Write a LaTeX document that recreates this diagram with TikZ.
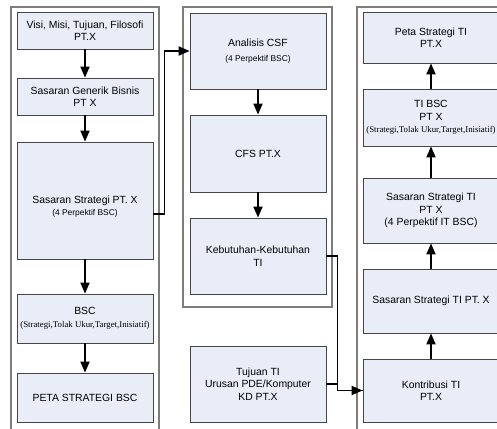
\documentclass[tikz,border=0pt]{standalone}
\usepackage{fontspec}
\setmainfont{Liberation Sans}
\newfontfamily\timesfont{Liberation Serif}
\usetikzlibrary{arrows.meta}

\definecolor{boxfill}{RGB}{232,237,247}
\definecolor{boxline}{RGB}{70,70,70}
\definecolor{frameline}{RGB}{125,125,125}

% smaller parenthetical lines
\newcommand\notesans[1]{{\fontsize{8.4}{10}\selectfont #1}}
\newcommand\noteserif[1]{{\fontsize{8.8}{10}\selectfont\timesfont #1}}

\begin{document}
\begin{tikzpicture}[x=1pt,y=-1pt,
  box/.style={draw=boxline, line width=0.8pt, fill=boxfill, minimum width=136pt,
    inner sep=0pt, align=center, font=\fontsize{10.4}{12.5}\selectfont},
  boxtext/.style={inner sep=0pt, align=center, font=\fontsize{10.4}{12.5}\selectfont},
  frame/.style={draw=frameline, line width=1.3pt},
  conn/.style={line width=1.8pt, -{Triangle[length=11pt,width=9pt]}},
  link/.style={line width=1.8pt},
]
\useasboundingbox (0,0) rectangle (497,428);
\fill[white] (0,0) rectangle (497,428);

\begin{scope}
\clip (0,0) rectangle (497,428);

% three column frames
\draw[frame] (11,7) rectangle (159,440);
\draw[frame] (183,7) rectangle (332,307);
\draw[frame] (357,7) rectangle (504,440);

% business column
\node[box, minimum height=37pt] (b1) at (85,30.5) {Visi, Misi, Tujuan, Filosofi\\PT.X};
\node[box, minimum height=37pt] (b2) at (85,96.5) {Sasaran Generik Bisnis\\PT X};
\node[box, minimum height=117pt] (b3) at (85,200.5) {};
\node[boxtext] (b3t) at ([yshift=-6pt]b3.center) {Sasaran Strategi PT. X\\\notesans{(4 Perpektif BSC)}};
\node[box, minimum height=49pt] (b4) at (85,318.5) {BSC\\\noteserif{(Strategi,Tolak Ukur,Target,Inisiatif)}};
\node[box, minimum height=49pt] (b5) at (85,397.5) {PETA STRATEGI BSC};

% CSF column
\node[box, minimum height=76pt] (m1) at (258,51) {Analisis CSF\\[3pt]\notesans{(4 Perpektif BSC)}};
\node[box, minimum height=77pt] (m2) at (258,153.5) {CFS PT.X};
\node[box, minimum height=76pt] (m3) at (258,256) {Kebutuhan-Kebutuhan\\TI};
\node[box, minimum height=76pt] (m4) at (258,384) {Tujuan TI\\Urusan PDE/Komputer\\KD PT.X};

% IT column
\node[box, minimum height=51pt] (r1) at (431,37.5) {Peta Strategi TI\\PT.X};
\node[box, minimum height=57pt] (r2) at (431,117.5) {TI BSC\\PT X\\\noteserif{(Strategi,Tolak Ukur,Target,Inisiatif)}};
\node[box, minimum height=65pt] (r3) at (431,210.5) {Sasaran Strategi TI\\PT X\\(4 Perpektif IT BSC)};
\node[box, minimum height=64pt] (r4) at (431,301) {Sasaran Strategi TI PT. X};
\node[box, minimum height=63pt] (r5) at (431,390.5) {Kontribusi TI\\PT.X};

% vertical flows
\draw[conn] (b1) -- (b2);
\draw[conn] (b2) -- (b3);
\draw[conn] (b3) -- (b4);
\draw[conn] (b4) -- (b5);
\draw[conn] (m1) -- (m2);
\draw[conn] (m2) -- (m3);
\draw[conn] (r5) -- (r4);
\draw[conn] (r4) -- (r3);
\draw[conn] (r3) -- (r2);
\draw[conn] (r2) -- (r1);

% links between columns
\draw[conn] ([yshift=-13.5pt]b3.east) -- ++(11,0) |- (m1.west);
\draw[link] (m4.east) -- ++(11,0) |- (r5.west);
\draw[conn] (m3.east) -- ++(11,0) |- (r5.west);
\end{scope}
\end{tikzpicture}
\end{document}
